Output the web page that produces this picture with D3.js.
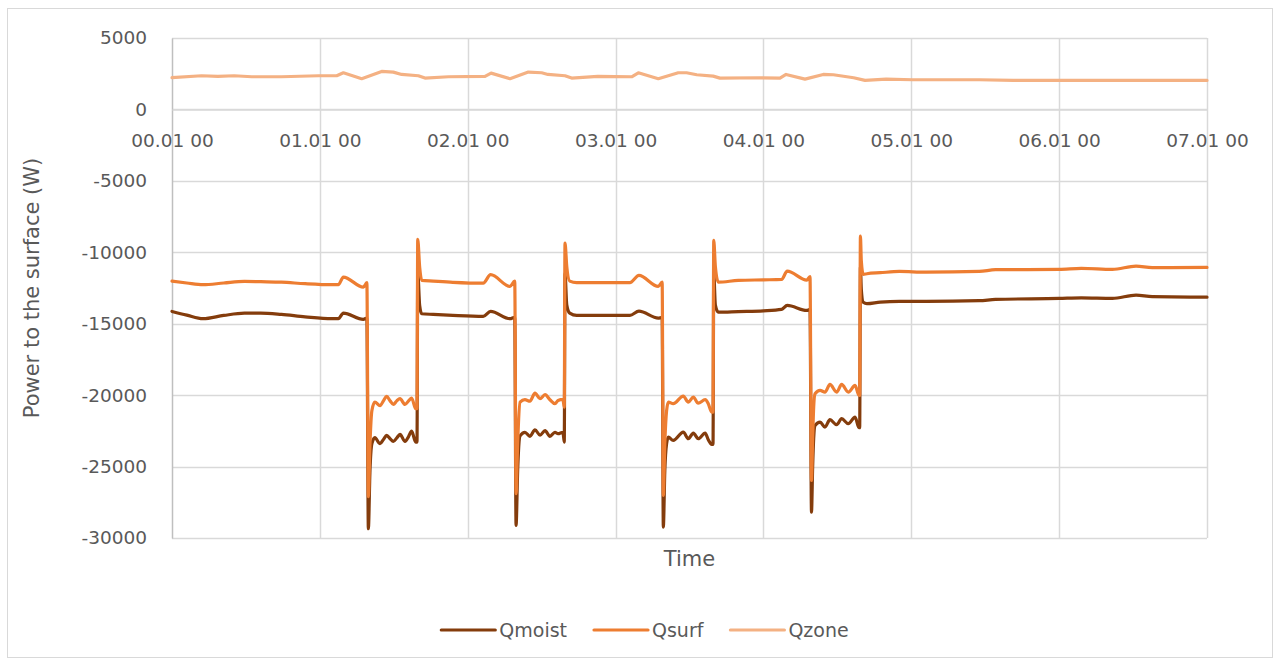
<!DOCTYPE html>
<html>
<head>
<meta charset="utf-8">
<script src="https://cdn.jsdelivr.net/npm/d3@7"></script>
<style>
  body { margin: 0; background: #fff; }
  text { font-family: "DejaVu Sans", sans-serif; fill: #595959; }
</style>
</head>
<body>
<div id="my_dataviz"></div>
<script>
// x tick labels (one per day)
var dayLabels = ["00.01 00", "01.01 00", "02.01 00", "03.01 00", "04.01 00", "05.01 00", "06.01 00", "07.01 00"];
var yTicks = [5000, 0, -5000, -10000, -15000, -20000, -25000, -30000];

// time in days, shared by Qmoist and Qsurf
var timeSM = [0, 0.1, 0.21, 0.35, 0.49, 0.6, 0.74, 0.9, 1.08, 1.125, 1.159, 1.294, 1.318,
    1.328, 1.339, 1.352, 1.372, 1.407, 1.43, 1.452, 1.475, 1.497, 1.52, 1.542, 1.576, 1.60, 1.621, 1.648, 1.657,
    1.662, 1.675, 1.689, 1.767, 1.9, 2.105, 2.155, 2.286, 2.318,
    2.327, 2.338, 2.354, 2.387, 2.421, 2.455, 2.489, 2.523, 2.556, 2.590, 2.611, 2.644, 2.653,
    2.658, 2.67, 2.69, 2.737, 3.097, 3.158, 3.289, 3.315,
    3.323, 3.333, 3.345, 3.357, 3.39, 3.458, 3.492, 3.526, 3.559, 3.606, 3.627, 3.65, 3.659,
    3.664, 3.675, 3.695, 3.83, 4.0, 4.123, 4.161, 4.293, 4.315,
    4.325, 4.333, 4.34, 4.349, 4.383, 4.416, 4.45, 4.495, 4.529, 4.574, 4.62, 4.646, 4.651,
    4.656, 4.662, 4.675, 4.70, 4.79, 4.92, 5.10, 5.46, 5.57, 6.0, 6.15, 6.36, 6.52, 6.63, 7.0];

var qsurf = [-12020, -12150, -12270, -12150, -12040, -12060, -12090, -12200, -12270, -12270, -11740, -12440, -12130,
    -27100, -23400, -21070, -20490, -20740, -20400, -20090, -20400, -20650, -20400, -20250, -20650, -20400, -20200, -20950, -20950,
    -9100, -11040, -11970, -12020, -12100, -12160, -11570, -12390, -12020,
    -26900, -23300, -20490, -20320, -20420, -19860, -20250, -19970, -20320, -20600, -20370, -20300, -20840,
    -9360, -11000, -12020, -12130, -12130, -11620, -12390, -12090,
    -27020, -23400, -21100, -20490, -20600, -20070, -20490, -20140, -20560, -20320, -20600, -21190, -21190,
    -9170, -11000, -12090, -11970, -11930, -11900, -11320, -11950, -11700,
    -25970, -23000, -20800, -19900, -19670, -19790, -19250, -19790, -19250, -19790, -19320, -20020, -20020,
    -8870, -10600, -11550, -11500, -11430, -11340, -11390, -11340, -11220, -11200, -11130, -11200, -10970, -11080, -11060];

var qmoist = [-14140, -14400, -14650, -14420, -14260, -14260, -14350, -14520, -14650, -14650, -14260, -14700, -14600,
    -29350, -25270, -23400, -22980, -23400, -23100, -22820, -23050, -23240, -23000, -22750, -23240, -22900, -22520, -23290, -23290,
    -11400, -13720, -14300, -14350, -14420, -14490, -14140, -14650, -14550,
    -29120, -25200, -22850, -22600, -22880, -22430, -22800, -22480, -22880, -22600, -22700, -22600, -23290,
    -11500, -13700, -14260, -14420, -14420, -14120, -14610, -14550,
    -29240, -25300, -23400, -22940, -23170, -22590, -23050, -22660, -23050, -22660, -23120, -23450, -23450,
    -11500, -13700, -14190, -14150, -14100, -14000, -13720, -14070, -14000,
    -28190, -25000, -23000, -22120, -21890, -22240, -21720, -22070, -21650, -22000, -21540, -22280, -22280,
    -11000, -12600, -13500, -13600, -13490, -13440, -13440, -13390, -13300, -13230, -13190, -13230, -13000, -13110, -13140];

// Qzone has its own time stamps
var timeZone = [0, 0.2, 0.31, 0.42, 0.54, 0.74, 0.99, 1.114, 1.159, 1.283, 1.418, 1.497, 1.553, 1.666, 1.711, 1.87,
    2.117, 2.158, 2.286, 2.41, 2.50, 2.543, 2.658, 2.703, 2.88, 3.109, 3.154, 3.289, 3.424, 3.48, 3.549, 3.66, 3.706,
    3.977, 4.112, 4.153, 4.281, 4.405, 4.473, 4.61, 4.687, 4.83, 5.01, 5.46, 5.69, 6.14, 7.0];
var qzone = [2220, 2357, 2310, 2357, 2287, 2287, 2357, 2357, 2567, 2147, 2660, 2613, 2450, 2357, 2193, 2287,
    2310, 2543, 2147, 2613, 2567, 2450, 2357, 2193, 2310, 2287, 2567, 2147, 2567, 2567, 2427, 2333, 2193,
    2217, 2193, 2450, 2123, 2450, 2427, 2217, 2030, 2123, 2077, 2077, 2030, 2030, 2030];

var seriesNames = ["Qmoist", "Qsurf", "Qzone"];
var seriesColors = ["#843C0C", "#ED7D31", "#F4B183"];

function visualize() {
    var W = 1278, H = 665;
    var plot = { left: 172, right: 1207, top: 38, bottom: 538 };

    var svg = d3.select("#my_dataviz")
        .append("svg")
        .attr("width", W)
        .attr("height", H);

    // chart frame
    svg.append("rect")
        .attr("x", 7.5).attr("y", 8.5)
        .attr("width", 1265).attr("height", 649)
        .attr("fill", "#fff")
        .attr("stroke", "#D9D9D9");

    var x = d3.scaleLinear().domain([0, 7]).range([plot.left, plot.right]);
    var y = d3.scaleLinear().domain([-30000, 5000]).range([plot.bottom, plot.top]);

    // gridlines
    svg.append("g").selectAll("line")
        .data(yTicks)
        .enter().append("line")
        .attr("x1", plot.left).attr("x2", plot.right)
        .attr("y1", function(d) { return Math.round(y(d)) + 0.5; })
        .attr("y2", function(d) { return Math.round(y(d)) + 0.5; })
        .attr("stroke", "#D9D9D9").attr("stroke-width", 1.5);

    svg.append("g").selectAll("line")
        .data(d3.range(1, 8))
        .enter().append("line")
        .attr("x1", function(d) { return Math.round(x(d)) + 0.5; })
        .attr("x2", function(d) { return Math.round(x(d)) + 0.5; })
        .attr("y1", plot.top).attr("y2", plot.bottom)
        .attr("stroke", "#D9D9D9").attr("stroke-width", 1.5);

    // y axis (plain hyphen for negatives, like the original)
    var yAxis = svg.append("g")
        .attr("transform", "translate(" + plot.left + ",0)")
        .call(d3.axisLeft(y).tickValues(yTicks).tickSize(0).tickPadding(25)
            .tickFormat(function(d) { return String(d); }));
    yAxis.select(".domain").attr("stroke", "#BFBFBF").attr("stroke-width", 1.5);
    yAxis.selectAll("text")
        .style("font-size", "18.5px")
        .style("font-family", "DejaVu Sans")
        .attr("fill", "#595959");

    // x axis sits on the zero line
    var xAxis = svg.append("g")
        .attr("transform", "translate(0," + (Math.round(y(0)) + 0.5) + ")")
        .call(d3.axisBottom(x).tickValues(d3.range(0, 8)).tickSize(0).tickPadding(24)
            .tickFormat(function(d) { return dayLabels[d]; }));
    xAxis.select(".domain").attr("stroke", "#D9D9D9").attr("stroke-width", 1.5);
    xAxis.selectAll("text")
        .style("font-size", "18.5px")
        .style("font-family", "DejaVu Sans")
        .attr("fill", "#595959");

    // series
    var dataReady = [
        { name: "Qmoist", values: timeSM.map(function(t, i) { return { time: t, value: qmoist[i] }; }) },
        { name: "Qsurf", values: timeSM.map(function(t, i) { return { time: t, value: qsurf[i] }; }) },
        { name: "Qzone", values: timeZone.map(function(t, i) { return { time: t, value: qzone[i] }; }) }
    ];
    var myColor = d3.scaleOrdinal().domain(seriesNames).range(seriesColors);

    var smooth = d3.line()
        .curve(d3.curveMonotoneX)
        .x(function(d) { return x(d.time); })
        .y(function(d) { return y(d.value); });
    var straight = d3.line()
        .x(function(d) { return x(d.time); })
        .y(function(d) { return y(d.value); });

    svg.selectAll("myLines")
        .data(dataReady)
        .enter()
        .append("path")
        .attr("d", function(d) { return d.name == "Qzone" ? straight(d.values) : smooth(d.values); })
        .attr("stroke", function(d) { return myColor(d.name); })
        .attr("stroke-width", 3.2)
        .attr("stroke-linejoin", "round")
        .attr("stroke-linecap", "round")
        .attr("fill", "none");

    // axis titles
    svg.append("text")
        .attr("transform", "translate(39," + ((plot.top + plot.bottom) / 2) + ") rotate(-90)")
        .attr("text-anchor", "middle")
        .style("font-size", "21px")
        .text("Power to the surface (W)");

    svg.append("text")
        .attr("x", (plot.left + plot.right) / 2)
        .attr("y", 566)
        .attr("text-anchor", "middle")
        .style("font-size", "21px")
        .text("Time");

    // legend, centred under the chart
    var legend = svg.append("g");
    var cx = 0;
    dataReady.forEach(function(d, i) {
        var g = legend.append("g").attr("transform", "translate(" + cx + ",0)");
        g.append("line")
            .attr("x1", 0).attr("x2", 54)
            .attr("y1", 630).attr("y2", 630)
            .attr("stroke", myColor(d.name))
            .attr("stroke-width", 3.2)
            .attr("stroke-linecap", "round");
        var t = g.append("text")
            .attr("x", 58).attr("y", 637)
            .style("font-size", "19px")
            .text(d.name);
        cx += 58 + t.node().getComputedTextLength() + 27;
    });
    var legendW = cx - 27;
    legend.attr("transform", "translate(" + (645 - legendW / 2) + ",0)");
}

visualize();
</script>
</body>
</html>
